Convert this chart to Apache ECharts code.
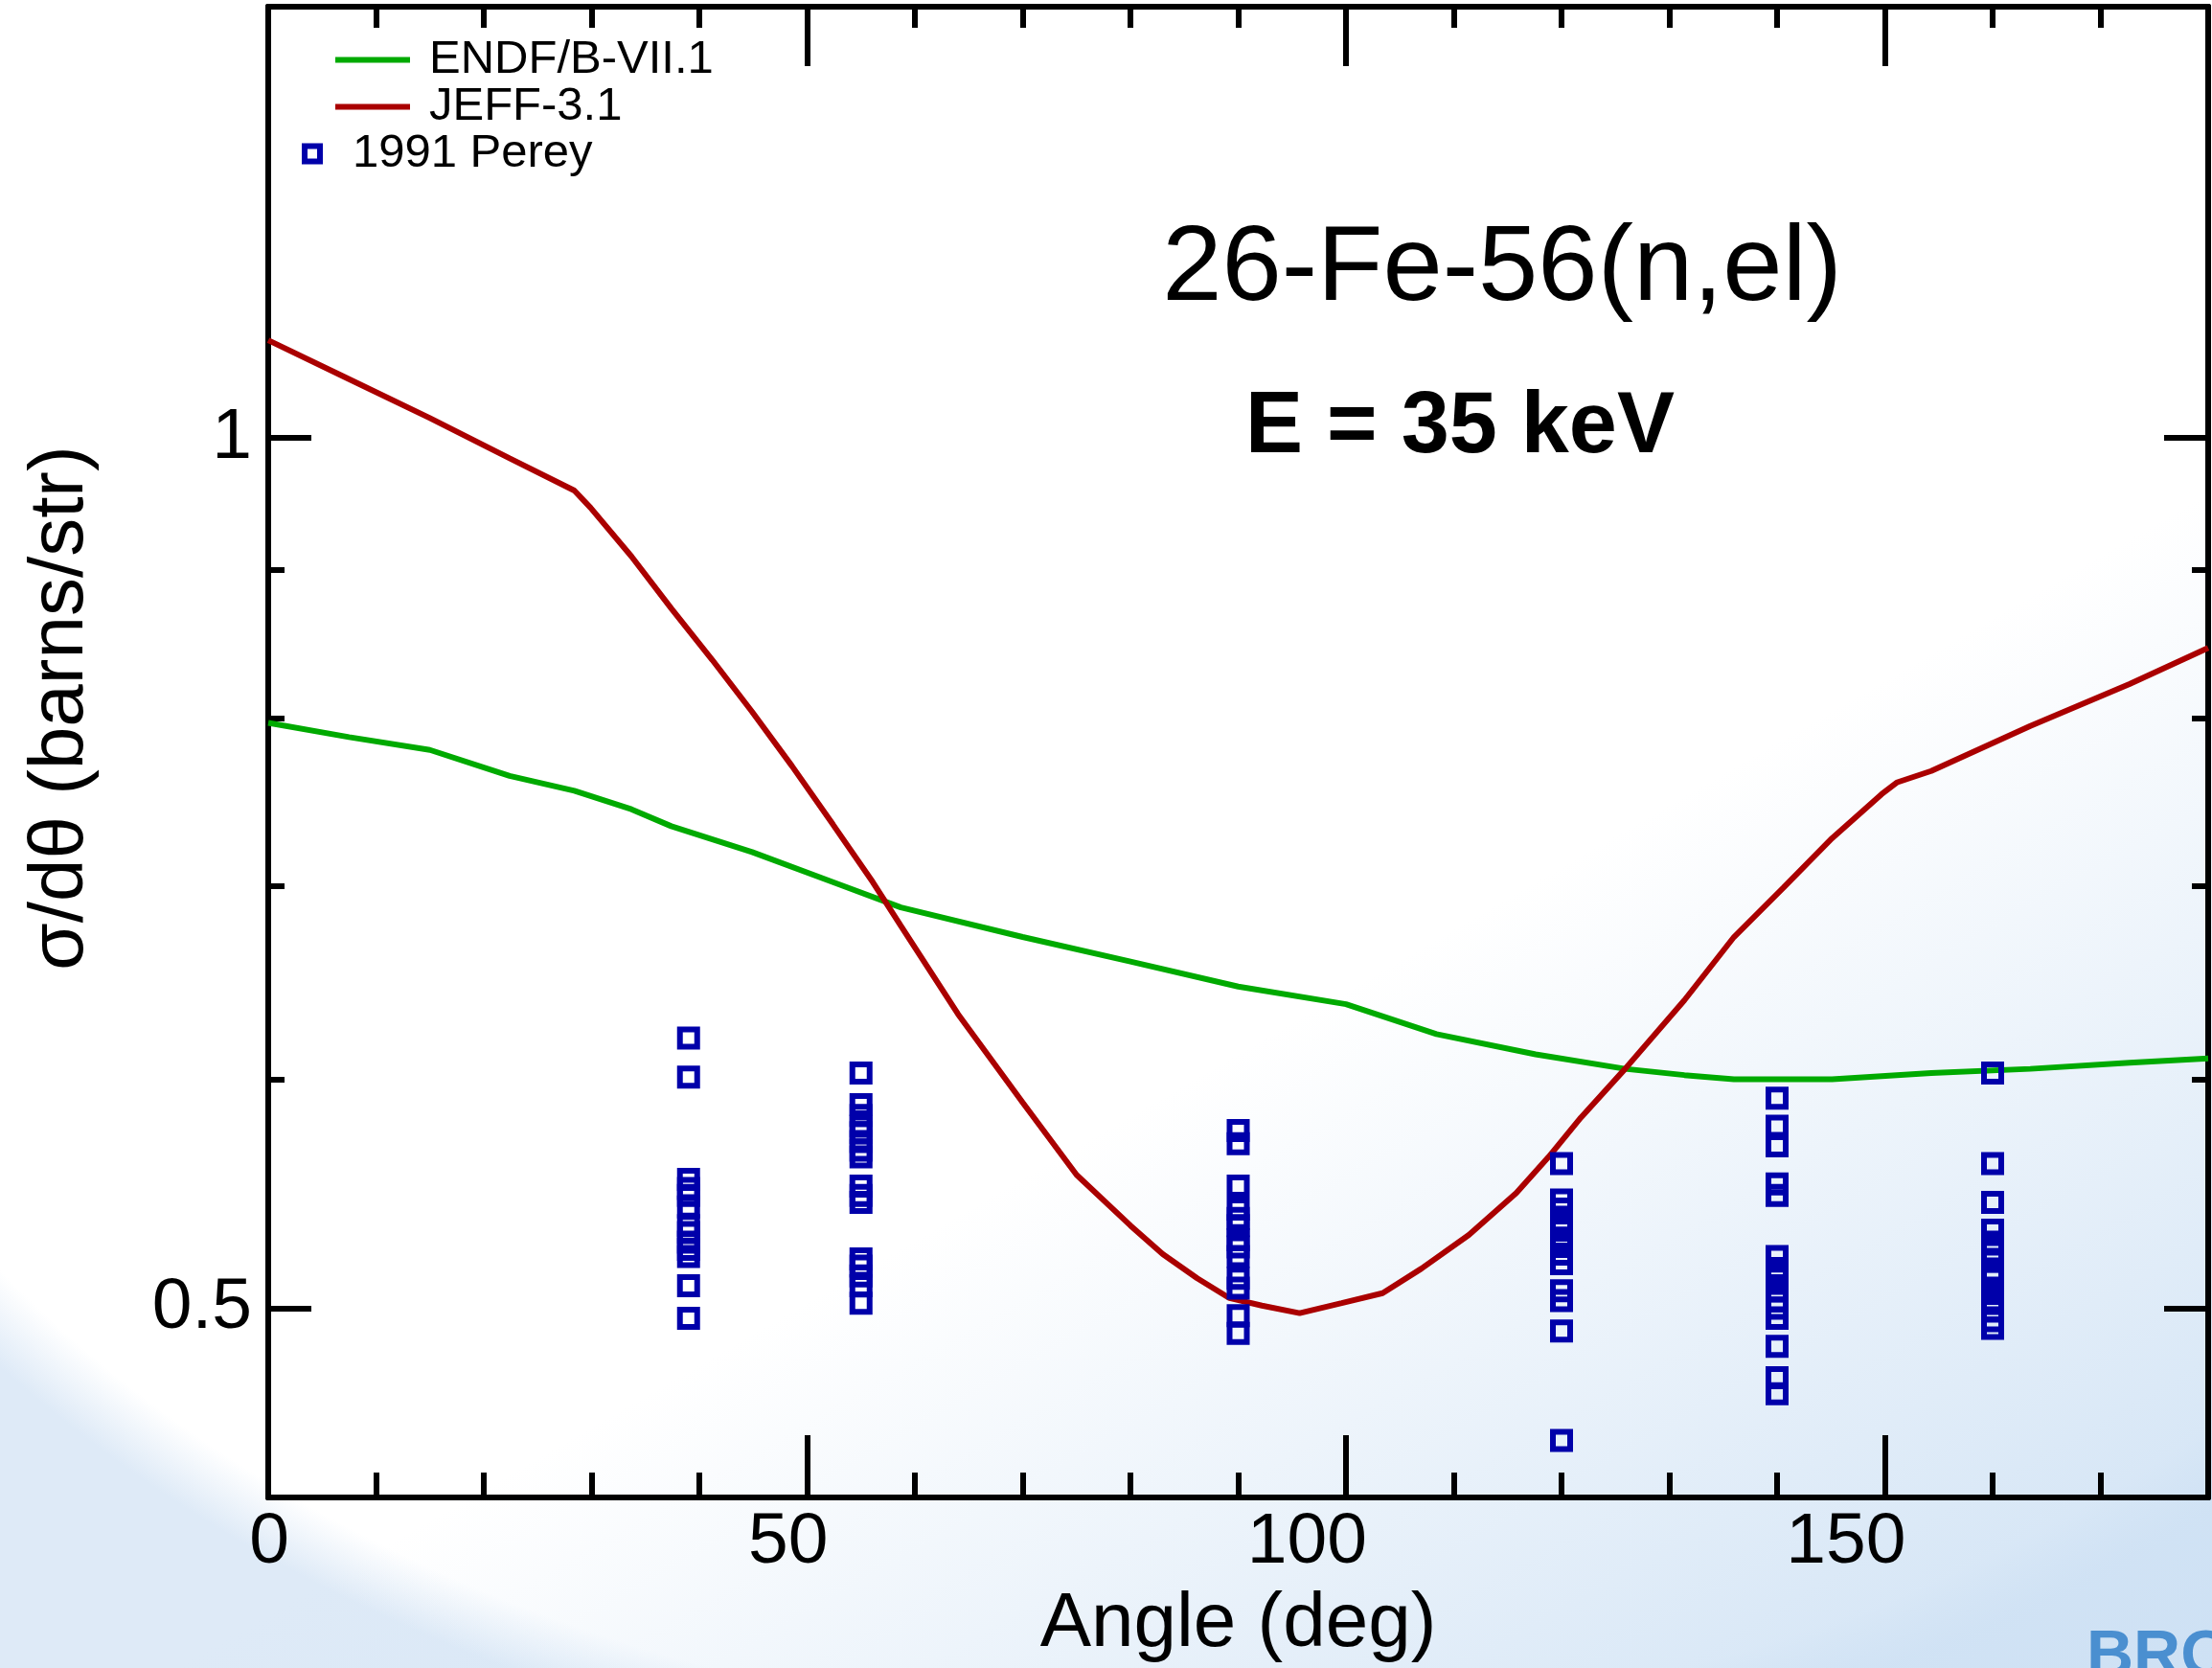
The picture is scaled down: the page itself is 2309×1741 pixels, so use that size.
<!DOCTYPE html>
<html>
<head>
<meta charset="utf-8">
<title>26-Fe-56(n,el) E = 35 keV</title>
<script src="https://cdn.jsdelivr.net/npm/echarts@6/dist/echarts.min.js"></script>
<style>
  html, body { margin: 0; padding: 0; }
  body {
    width: 2309px;
    height: 1741px;
    overflow: hidden;
    background-color: #fff;
    background-image:
      linear-gradient(150deg, rgba(255,255,255,0) 60%, rgba(206,225,244,1) 100%),
      radial-gradient(ellipse 1650px 1250px at 1250px 630px, rgba(255,255,255,0) 94%, rgba(222,234,247,1) 99%);
  }
  #chart { width: 2309px; height: 1741px; }
</style>
</head>
<body>
<div id="chart"></div>
<script>
// ENDF/B-VII.1 evaluation (green)
const endfAngle = [0, 7.5, 15, 22.4, 28.4, 33.7, 37.4, 44.9, 52.4, 58.7, 70, 80, 90, 100, 108.4, 117.6, 125.9, 131.4, 136, 145.1, 154.3, 163.5, 172.7, 180]
const endfValue = [0.797, 0.788, 0.780, 0.764, 0.755, 0.744, 0.734, 0.719, 0.702, 0.688, 0.672, 0.659, 0.646, 0.637, 0.622, 0.612, 0.605, 0.602, 0.600, 0.600, 0.603, 0.605, 0.608, 0.610]

// JEFF-3.1 evaluation (red)
const jeffAngle = [0, 7.5, 15, 22.4, 28.4, 29.9, 33.7, 37.4, 41.2, 44.9, 48.6, 52.4, 56.1, 58.7, 64, 70, 75, 80, 83, 86.2, 89.2, 92.2, 95.7, 99.6, 103.4, 107, 111.4, 115.8, 118.8, 121.8, 125.9, 131.4, 136, 140.6, 145.1, 149.7, 151.1, 154.3, 163.5, 172.7, 180]
const jeffValue = [1.081, 1.048, 1.016, 0.984, 0.959, 0.946, 0.910, 0.873, 0.838, 0.804, 0.770, 0.735, 0.702, 0.678, 0.632, 0.589, 0.556, 0.534, 0.522, 0.512, 0.504, 0.501, 0.498, 0.502, 0.506, 0.516, 0.530, 0.548, 0.564, 0.582, 0.605, 0.639, 0.672, 0.699, 0.727, 0.753, 0.760, 0.767, 0.795, 0.822, 0.846]

// 1991 Perey measurements, one column per angle
const pereyAngle = [39, 55, 90, 120, 140, 160]
const pereyValue = [
  [0.620, 0.601, 0.554, 0.550, 0.547, 0.542, 0.534, 0.531, 0.527, 0.524, 0.521, 0.509, 0.496],
  [0.603, 0.588, 0.583, 0.578, 0.575, 0.571, 0.567, 0.564, 0.551, 0.547, 0.544, 0.520, 0.517, 0.513, 0.509, 0.502],
  [0.576, 0.570, 0.551, 0.541, 0.537, 0.534, 0.528, 0.525, 0.521, 0.512, 0.508, 0.497, 0.490],
  [0.561, 0.545, 0.541, 0.536, 0.532, 0.527, 0.522, 0.518, 0.507, 0.503, 0.491, 0.450],
  [0.591, 0.578, 0.569, 0.552, 0.547, 0.521, 0.516, 0.512, 0.507, 0.503, 0.500, 0.496, 0.485, 0.473, 0.467],
  [0.603, 0.561, 0.544, 0.532, 0.527, 0.523, 0.519, 0.514, 0.512, 0.508, 0.503, 0.499, 0.495, 0.492]
]

// axis ticks
const xMajorTicks = [0, 50, 100, 150]
const xMinorTicks = [10, 20, 30, 40, 60, 70, 80, 90, 110, 120, 130, 140, 160, 170]
const yMajorTicks = [0.5, 1]
const yMinorTicks = [0.6, 0.7, 0.8, 0.9]

const font = '"Liberation Sans", Arial, Helvetica, sans-serif'
const black = '#000'

const endfData = endfAngle.map((a, i) => [a, endfValue[i]])
const jeffData = jeffAngle.map((a, i) => [a, jeffValue[i]])
const pereyData = []
pereyAngle.forEach((a, i) => {
  pereyValue[i].forEach(v => pereyData.push([a, v]))
})

function xAxis(position, ticks, len, label) {
  return {
    type: 'value',
    position: position,
    min: 0,
    max: 180,
    axisLine: { show: true, onZero: false, lineStyle: { color: black, width: 6 } },
    axisTick: { show: true, inside: true, length: len, customValues: ticks, lineStyle: { color: black, width: 6 } },
    // labels sit a bit left of their tick in the original plot
    axisLabel: label
      ? { show: true, customValues: xMajorTicks, margin: 10, fontSize: 75, fontFamily: font, color: black, align: 'right', padding: [0, -22, 0, 0] }
      : { show: false },
    splitLine: { show: false }
  }
}

function yAxis(position, ticks, len, label) {
  return {
    type: 'log',
    logBase: 10,
    position: position,
    min: 0.43,
    max: 1.41,
    axisLine: { show: true, onZero: false, lineStyle: { color: black, width: 6 } },
    axisTick: { show: true, inside: true, length: len, customValues: ticks, lineStyle: { color: black, width: 6 } },
    axisLabel: label
      ? { show: true, customValues: yMajorTicks, margin: 17, fontSize: 75, fontFamily: font, color: black }
      : { show: false },
    splitLine: { show: false },
    minorTick: { show: false },
    minorSplitLine: { show: false }
  }
}

const chart = echarts.init(document.getElementById('chart'))

const bottomAxis = xAxis('bottom', xMajorTicks, 65, true)
bottomAxis.name = 'Angle (deg)'
bottomAxis.nameLocation = 'middle'
bottomAxis.nameGap = 93
bottomAxis.nameTextStyle = { fontSize: 80, fontFamily: font, color: black }

const leftAxis = yAxis('left', yMajorTicks, 45, true)
leftAxis.name = 'σ/dθ (barns/str)'
leftAxis.nameLocation = 'middle'
leftAxis.nameGap = 176
leftAxis.nameTextStyle = { fontSize: 80, fontFamily: font, color: black, padding: [0, 0, 0, 92] }

const option = {
  animation: false,
  backgroundColor: 'transparent',
  grid: { left: 280, right: 4, top: 7, bottom: 176 },
  xAxis: [
    bottomAxis,
    xAxis('bottom', xMinorTicks, 26, false),
    xAxis('top', [50, 100, 150], 62, false),
    xAxis('top', xMinorTicks, 22, false)
  ],
  yAxis: [
    leftAxis,
    yAxis('left', yMinorTicks, 17, false),
    yAxis('right', yMajorTicks, 46, false),
    yAxis('right', yMinorTicks, 17, false)
  ],
  legend: [
    {
      orient: 'vertical',
      left: 345,
      top: 33,
      itemGap: 0,
      itemWidth: 78,
      itemHeight: 6,
      icon: 'rect',
      selectedMode: false,
      itemStyle: { borderWidth: 0 },
      data: ['ENDF/B-VII.1', 'JEFF-3.1'],
      textStyle: { fontSize: 49, lineHeight: 49, fontFamily: font, color: black, padding: [0, 0, 0, 15] }
    },
    {
      orient: 'vertical',
      left: 310,
      top: 131,
      itemWidth: 16,
      itemHeight: 16,
      icon: 'rect',
      selectedMode: false,
      itemStyle: { color: 'rgba(0,0,0,0)', borderColor: '#0000aa', borderWidth: 6 },
      data: ['1991 Perey'],
      textStyle: { fontSize: 49, lineHeight: 49, fontFamily: font, color: black, padding: [0, 0, 0, 29] }
    }
  ],
  graphic: [
    {
      type: 'text',
      x: 1568,
      y: 282,
      style: { text: '26-Fe-56(n,el)', fontSize: 112, fontFamily: font, fill: black, align: 'center', verticalAlign: 'middle' }
    },
    {
      type: 'text',
      x: 1524,
      y: 447,
      style: { text: 'E = 35 keV', fontSize: 90, fontWeight: 'bold', fontFamily: font, fill: black, align: 'center', verticalAlign: 'middle' }
    },
    {
      type: 'text',
      x: 2178,
      y: 1696,
      style: { text: 'BROOKHAVEN', fontSize: 68, fontWeight: 'bold', fontFamily: '"Liberation Sans Narrow", ' + font, fill: '#4a8fd0', align: 'left', verticalAlign: 'top' }
    }
  ],
  series: [
    {
      name: 'ENDF/B-VII.1',
      type: 'line',
      data: endfData,
      symbol: 'none',
      color: '#00aa00',
      lineStyle: { color: '#00aa00', width: 6 },
      emphasis: { disabled: true },
      z: 3
    },
    {
      name: 'JEFF-3.1',
      type: 'line',
      data: jeffData,
      symbol: 'none',
      color: '#aa0000',
      lineStyle: { color: '#aa0000', width: 6 },
      emphasis: { disabled: true },
      z: 3
    },
    {
      name: '1991 Perey',
      type: 'scatter',
      data: pereyData,
      symbol: 'rect',
      symbolSize: 18,
      color: '#0000aa',
      itemStyle: { color: 'rgba(0,0,0,0)', borderColor: '#0000aa', borderWidth: 6, opacity: 1 },
      emphasis: { disabled: true },
      z: 4
    }
  ]
}

chart.setOption(option)
</script>
</body>
</html>
